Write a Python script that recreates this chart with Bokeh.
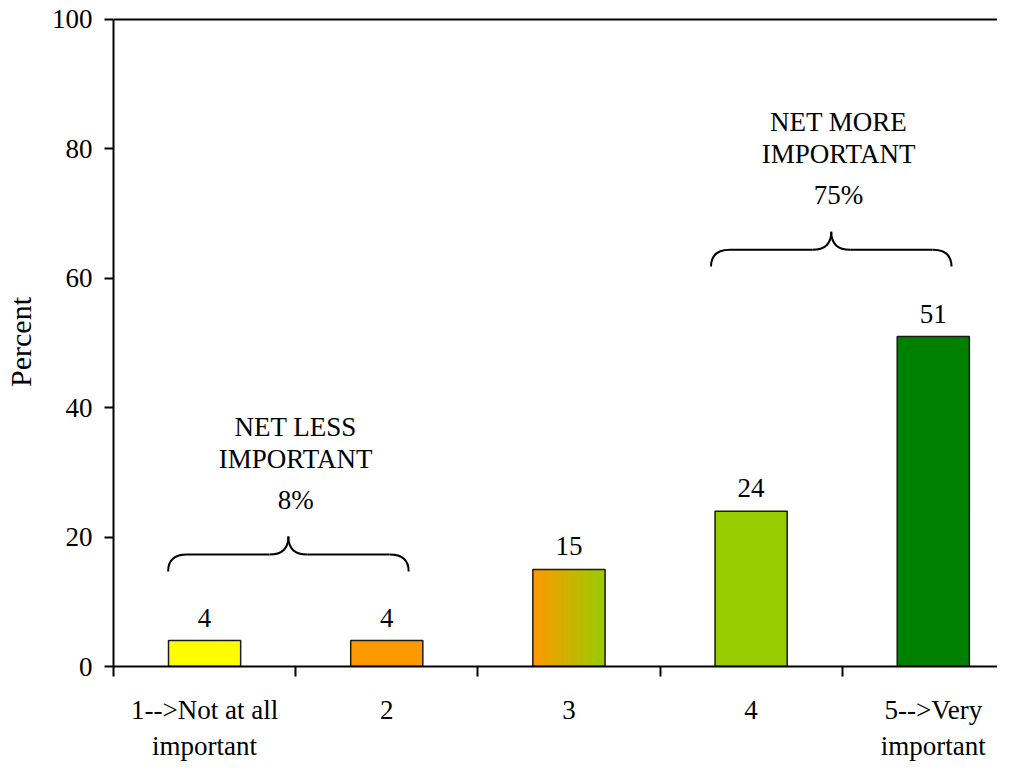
import numpy as np
from bokeh.plotting import figure
from bokeh.models import FixedTicker, Range1d
from bokeh.core.properties import value
from bokeh.embed import file_html
from bokeh.resources import INLINE

# ---- data ----
categories = ["1-->Not at all\nimportant", "2", "3", "4", "5-->Very\nimportant"]
percents = [4, 4, 15, 24, 51]
fill_start = ["#FFFF00", "#FF9900", "#FF9900", "#99CC00", "#008000"]
fill_end = ["#FFFF00", "#FF9900", "#99CC00", "#99CC00", "#008000"]
y_ticks = [0, 20, 40, 60, 80, 100]

group_titles = [["NET LESS", "IMPORTANT"], ["NET MORE", "IMPORTANT"]]
group_pcts = ["8%", "75%"]
group_text_x = [0.5, 3.48]
brace_x0 = [-0.2, 2.78]
brace_x1 = [1.12, 4.10]
brace_y = [14.7, 61.8]

FONT = "Liberation Serif"
FS = "27px"
xs = list(range(len(categories)))
bar_w = 0.396
LEFT = 109
PX = 183
X0, X1 = -0.5, -0.5 + (997 - LEFT) / PX
Y0, Y1 = 0, 100.3

p = figure(width=997, frame_height=649, output_backend="svg",
           toolbar_location=None,
           x_range=Range1d(X0, X1), y_range=Range1d(Y0, Y1),
           min_border_left=LEFT, min_border_right=0, min_border_top=17,
           min_border_bottom=0)
p.outline_line_color = None
p.xgrid.visible = False
p.ygrid.visible = False
p.background_fill_color = "white"

# gradient / solid fills
for i, (s, e) in enumerate(zip(fill_start, fill_end)):
    if s == e:
        p.vbar(x=[xs[i]], top=[percents[i]], width=bar_w, bottom=0,
               fill_color=s, line_color=None)
    else:
        n = 40
        c0 = np.array([int(s[k:k + 2], 16) for k in (1, 3, 5)], float)
        c1 = np.array([int(e[k:k + 2], 16) for k in (1, 3, 5)], float)
        edges = np.linspace(xs[i] - bar_w / 2, xs[i] + bar_w / 2, n + 1)
        cols = []
        for t in np.linspace(0, 1, n):
            c = c0 + (c1 - c0) * t
            cols.append("#%02x%02x%02x" % tuple(int(round(v)) for v in c))
        p.quad(left=edges[:-1], right=edges[1:], bottom=0, top=percents[i],
               fill_color=cols, line_color=cols, line_width=1)

# outlines
p.vbar(x=xs, top=percents, width=bar_w, bottom=0, fill_alpha=0,
       line_color="#1a1a1a", line_width=1.5)

# value labels
p.text(x=xs, y=percents, text=[str(v) for v in percents],
       text_font=value(FONT), text_font_size=FS, text_align="center",
       text_baseline="alphabetic", y_offset=-23, text_color="#000000")

# braces
for x0, x1, ye in zip(brace_x0, brace_x1, brace_y):
    xc = (x0 + x1) / 2
    rx = 19 / PX
    yl = ye + 2.6
    yt = ye + 5.4
    kw = dict(line_color="black", line_width=2)
    p.quadratic(x0=[x0, x1, xc - rx, xc + rx], y0=[ye, ye, yl, yl],
                x1=[x0 + rx, x1 - rx, xc, xc], y1=[yl, yl, yt, yt],
                cx=[x0, x1, xc, xc], cy=[yl, yl, yl, yl], **kw)
    p.segment(x0=[x0 + rx, xc + rx], y0=[yl, yl], x1=[xc - rx, x1 - rx],
              y1=[yl, yl], **kw)

# group texts
for tx, ye, titles, pct in zip(group_text_x, brace_y, group_titles, group_pcts):
    yt = ye + 5.2
    p.text(x=[tx], y=[yt], text=[pct], text_font=value(FONT), text_font_size=FS,
           text_align="center", text_baseline="middle", y_offset=-38)
    p.text(x=[tx, tx], y=[yt, yt], text=titles, text_font=value(FONT),
           text_font_size=FS, text_align="center", text_baseline="middle",
           y_offset=[-111, -79])

# top border line
p.segment(x0=[X0], y0=[100], x1=[X1], y1=[100], line_color="black", line_width=2)

# y axis
yax = p.yaxis[0]
yax.ticker = FixedTicker(ticks=y_ticks, minor_ticks=[])
yax.bounds = (0, 100)
yax.axis_line_width = 2
yax.major_tick_line_width = 2
yax.major_tick_out = 9
yax.major_tick_in = 0
yax.minor_tick_out = 0
yax.minor_tick_in = 0
yax.major_label_standoff = 12
yax.major_label_text_font = FONT
yax.major_label_text_font_size = FS
yax.major_label_text_color = "black"
yax.axis_label = "Percent"
yax.axis_label_text_font = FONT
yax.axis_label_text_font_size = "30px"
yax.axis_label_text_font_style = "normal"
yax.axis_label_text_color = "black"
yax.axis_label_standoff = 12

# x axis
xax = p.xaxis[0]
xax.ticker = FixedTicker(ticks=xs, minor_ticks=[i - 0.5 for i in xs] + [len(xs) - 0.5])
xax.major_label_overrides = {i: c for i, c in enumerate(categories)}
xax.axis_line_width = 2
xax.major_tick_out = 0
xax.major_tick_in = 0
xax.minor_tick_out = 10
xax.minor_tick_in = 0
xax.minor_tick_line_width = 2
xax.major_label_standoff = 18
xax.major_label_text_font = FONT
xax.major_label_text_font_size = FS
xax.major_label_text_color = "black"

open("out.html", "w").write(file_html(p, INLINE))
